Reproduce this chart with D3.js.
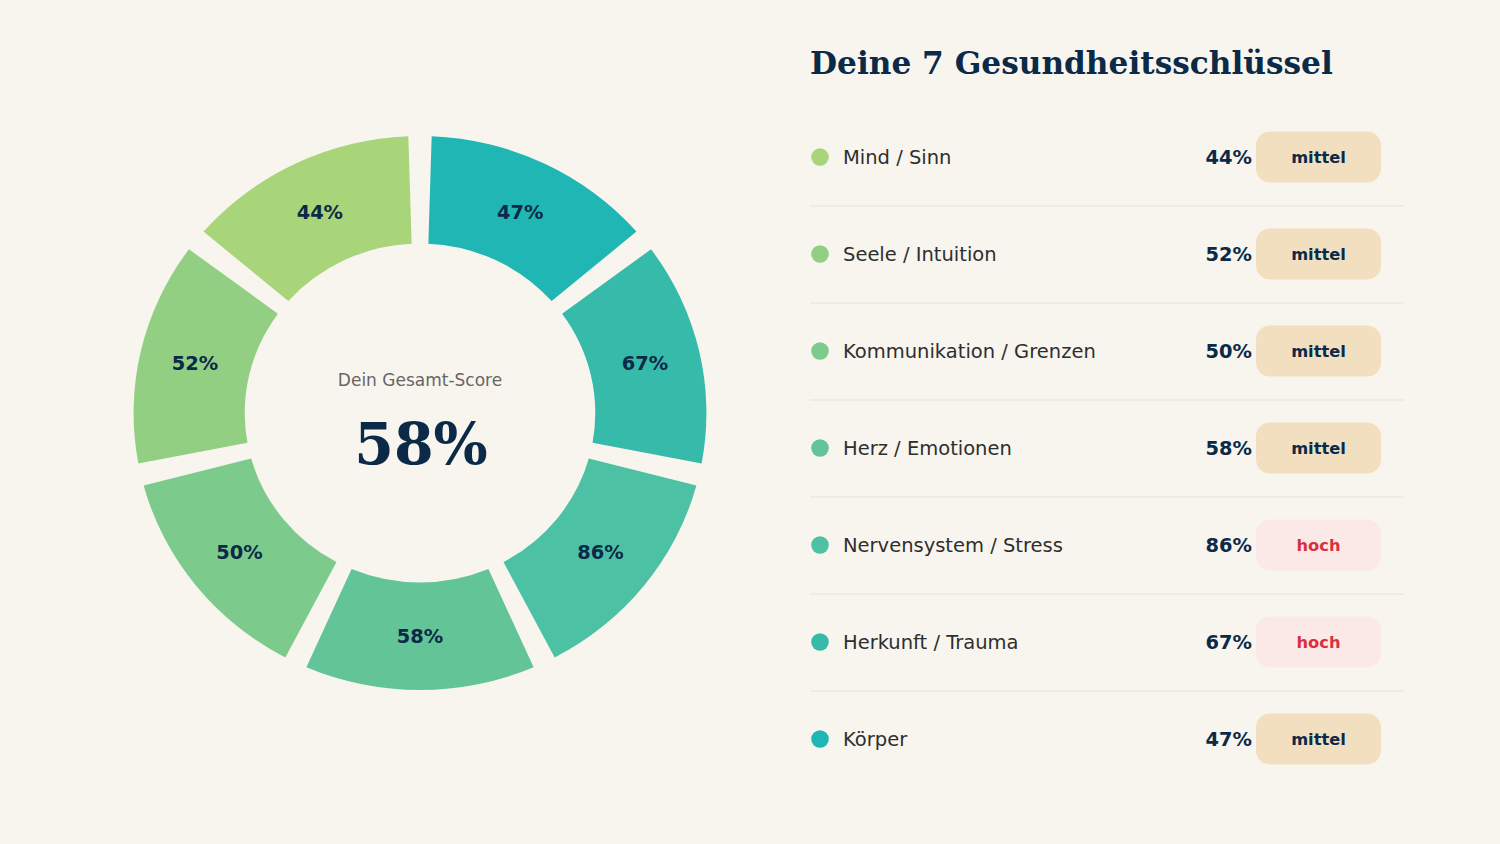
<!DOCTYPE html>
<html>
<head>
<meta charset="utf-8">
<script src="https://cdn.jsdelivr.net/npm/d3@7"></script>
<style>
  html, body { margin: 0; padding: 0; background: #f8f5ee; }
  svg { display: block; }
</style>
</head>
<body>
<svg id="chart" width="1500" height="844"></svg>
<script>
// ---- data ----
const categories = ["Mind / Sinn", "Seele / Intuition", "Kommunikation / Grenzen", "Herz / Emotionen", "Nervensystem / Stress", "Herkunft / Trauma", "Körper"];
const values = [44, 52, 50, 58, 86, 67, 47];
const levels = ["mittel", "mittel", "mittel", "mittel", "hoch", "hoch", "mittel"];
const palette = ["#a8d47a", "#92cf82", "#7ccb8c", "#62c497", "#4dc1a3", "#36bbab", "#1fb6b4"];
const totalScore = 58;
const titleText = "Deine 7 Gesundheitsschlüssel";
const centerLabel = "Dein Gesamt-Score";

// ---- setup ----
const svg = d3.select("#chart");
const navy = "#0b2a48";
const sans = "'DejaVu Sans', sans-serif";
const serif = "'DejaVu Serif', serif";

const color = d3.scaleOrdinal().domain(categories).range(palette);
const rows = categories.map((c, i) => ({ name: c, value: values[i], level: levels[i] }));

// ---- donut ----
const cx = 420, cy = 413;
const outerR = 277, innerR = 169.5;
const sx = 1.034; // slight horizontal stretch seen in the reference
const halfPad = 0.03;

const pie = d3.pie().value(() => 1).sort(null);
const arcs = pie(rows.slice().reverse());

const arc = d3.arc()
  .innerRadius(innerR)
  .outerRadius(outerR)
  .startAngle(d => d.startAngle + halfPad)
  .endAngle(d => d.endAngle - halfPad)
  .padAngle(0.06)
  .padRadius(100);

const labelArc = d3.arc().innerRadius(innerR).outerRadius(outerR);

const gDonut = svg.append("g").attr("transform", `translate(${cx},${cy}) scale(${sx},1)`);
gDonut.selectAll("path")
  .data(arcs)
  .join("path")
  .attr("d", arc)
  .attr("fill", d => color(d.data.name));

const gLabels = svg.append("g").attr("transform", `translate(${cx},${cy})`);
gLabels.selectAll("text")
  .data(arcs)
  .join("text")
  .attr("x", d => labelArc.centroid(d)[0] * sx)
  .attr("y", d => labelArc.centroid(d)[1])
  .attr("dy", "0.36em")
  .attr("text-anchor", "middle")
  .attr("font-family", sans)
  .attr("font-weight", "bold")
  .attr("font-size", 19.4)
  .attr("fill", navy)
  .text(d => d.data.value + "%");

svg.append("text")
  .attr("x", cx).attr("y", 386)
  .attr("text-anchor", "middle")
  .attr("font-family", sans)
  .attr("font-size", 17)
  .attr("fill", "#666666")
  .text(centerLabel);

svg.append("text")
  .attr("x", cx + 1).attr("y", 464)
  .attr("text-anchor", "middle")
  .attr("font-family", serif)
  .attr("font-weight", "bold")
  .attr("font-size", 57)
  .attr("fill", navy)
  .text(totalScore + "%");

// ---- legend / list ----
svg.append("text")
  .attr("x", 810).attr("y", 74)
  .attr("font-family", serif)
  .attr("font-weight", "bold")
  .attr("font-size", 31.2)
  .attr("fill", navy)
  .text(titleText);

const y = d3.scaleBand().domain(categories).range([108.5, 108.5 + 97 * categories.length]);
const bw = y.bandwidth();

const g = svg.append("g");
const row = g.selectAll("g.row")
  .data(rows)
  .join("g")
  .attr("class", "row")
  .attr("transform", d => `translate(0,${y(d.name) + bw / 2})`);

row.append("circle")
  .attr("cx", 820).attr("cy", 0).attr("r", 8.8)
  .attr("fill", d => color(d.name));

row.append("text")
  .attr("x", 843).attr("y", 0).attr("dy", "0.36em")
  .attr("font-family", sans)
  .attr("font-size", 19.5)
  .attr("fill", "#2e2e2e")
  .text(d => d.name);

row.append("text")
  .attr("x", 1252).attr("y", 0).attr("dy", "0.36em")
  .attr("text-anchor", "end")
  .attr("font-family", sans)
  .attr("font-weight", "bold")
  .attr("font-size", 19.4)
  .attr("fill", navy)
  .text(d => d.value + "%");

row.append("rect")
  .attr("x", 1256).attr("y", -25.5)
  .attr("width", 125).attr("height", 51)
  .attr("rx", 14).attr("ry", 14)
  .attr("fill", d => d.level === "hoch" ? "#fbe9e8" : "#f2dfc0");

row.append("text")
  .attr("x", 1318.5).attr("y", 0).attr("dy", "0.36em")
  .attr("text-anchor", "middle")
  .attr("font-family", sans)
  .attr("font-weight", "bold")
  .attr("font-size", 16.3)
  .attr("fill", d => d.level === "hoch" ? "#d9303e" : navy)
  .text(d => d.level);

// separators between rows
g.selectAll("line.sep")
  .data(rows.slice(0, -1))
  .join("line")
  .attr("class", "sep")
  .attr("x1", 810).attr("x2", 1404)
  .attr("y1", d => y(d.name) + bw + 0.5)
  .attr("y2", d => y(d.name) + bw + 0.5)
  .attr("stroke", "#dde6e4")
  .attr("stroke-width", 1.2);
</script>
</body>
</html>
